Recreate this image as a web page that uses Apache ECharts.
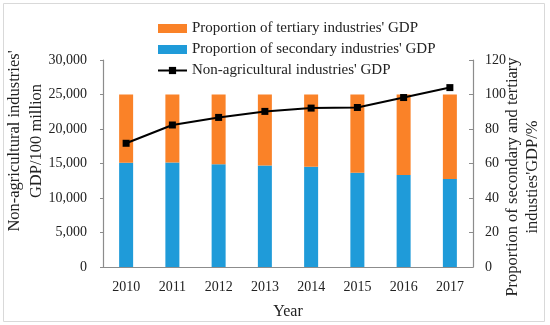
<!DOCTYPE html>
<html><head><meta charset="utf-8">
<script src="https://cdn.jsdelivr.net/npm/echarts@6/dist/echarts.min.js"></script>
<style>html,body{margin:0;padding:0;background:#fff}#c{width:550px;height:325px}</style>
</head><body><div id="c"></div>
<script>
var years = ['2010','2011','2012','2013','2014','2015','2016','2017'];
var secondaryShare = [60.4, 60.6, 59.6, 58.8, 58.1, 54.6, 53.3, 51.0];
var tertiaryShare = [39.6, 39.4, 40.4, 41.2, 41.9, 45.4, 46.7, 49.0];
var nonAgriGDP = [17930, 20580, 21680, 22550, 23030, 23120, 24560, 26000];
var leftTicks = [0, 30000, 5000];
var rightTicks = [0, 120, 20];

var FONT = 'Liberation Serif';
var axisColor = '#8c8c8c';
var txt = '#222';
var chart = echarts.init(document.getElementById('c'));
chart.setOption({
  animation: false,
  textStyle: {fontFamily: FONT, color: txt},
  graphic: [
    {type: 'rect', shape: {x: 3.5, y: 3.5, width: 541, height: 318}, style: {fill: 'none', stroke: '#d9d9d9', lineWidth: 1}, silent: true},
    {type: 'text', x: 26, y: 141, rotation: Math.PI/2, style: {text: "Non-agricultural industries'\nGDP/100 million", font: '16.5px "Liberation Serif"', fill: txt, align: 'center', verticalAlign: 'middle', lineHeight: 22}},
    {type: 'text', x: 523, y: 177, rotation: Math.PI/2, style: {text: "Proportion of secondary and tertiary\nindusties'GDP/%", font: '16.5px "Liberation Serif"', fill: txt, align: 'center', verticalAlign: 'middle', lineHeight: 20}}
  ],
  legend: {
    orient: 'vertical', left: 152, top: 16,
    itemWidth: 29, itemHeight: 9, itemGap: 6,
    textStyle: {fontFamily: FONT, fontSize: 15, color: txt},
    data: [
      {name: "Proportion of tertiary industries' GDP", icon: 'rect'},
      {name: "Proportion of secondary industries' GDP", icon: 'rect'},
      {name: "Non-agricultural industries' GDP"}
    ]
  },
  grid: {left: 103, right: 77, top: 60, bottom: 57},
  xAxis: {
    type: 'category', data: years, boundaryGap: true,
    name: 'Year', nameLocation: 'middle', nameGap: 37,
    nameTextStyle: {fontFamily: FONT, fontSize: 16, color: txt},
    axisLine: {lineStyle: {color: axisColor, width: 1.2}},
    axisTick: {inside: true, length: 4, lineStyle: {color: axisColor}},
    axisLabel: {fontFamily: FONT, fontSize: 14, color: txt, margin: 13}
  },
  yAxis: [
    {
      type: 'value', min: leftTicks[0], max: leftTicks[1], interval: leftTicks[2],
      splitLine: {show: false},
      axisLine: {show: true, lineStyle: {color: axisColor, width: 1.2}},
      axisTick: {show: true, length: 3, lineStyle: {color: axisColor}},
      axisLabel: {fontFamily: FONT, fontSize: 14, color: txt, margin: 16,
        formatter: function(v){ return v.toLocaleString('en-US'); }}
    },
    {
      type: 'value', min: rightTicks[0], max: rightTicks[1], interval: rightTicks[2], position: 'right',
      splitLine: {show: false},
      axisLine: {show: true, lineStyle: {color: axisColor, width: 1.2}},
      axisTick: {show: true, inside: true, length: 4, lineStyle: {color: axisColor}},
      axisLabel: {fontFamily: FONT, fontSize: 14, color: txt, margin: 12}
    }
  ],
  series: [
    {name: "Proportion of secondary industries' GDP", type: 'bar', stack: 'p', yAxisIndex: 1,
     barWidth: 14, itemStyle: {color: '#1F9BD9'}, data: secondaryShare},
    {name: "Proportion of tertiary industries' GDP", type: 'bar', stack: 'p', yAxisIndex: 1,
     barWidth: 14, itemStyle: {color: '#FA8228'}, data: tertiaryShare},
    {name: "Non-agricultural industries' GDP", type: 'line', yAxisIndex: 0,
     symbol: 'rect', symbolSize: 7, lineStyle: {color: '#000', width: 2},
     itemStyle: {color: '#000'}, data: nonAgriGDP}
  ]
});
</script></body></html>
